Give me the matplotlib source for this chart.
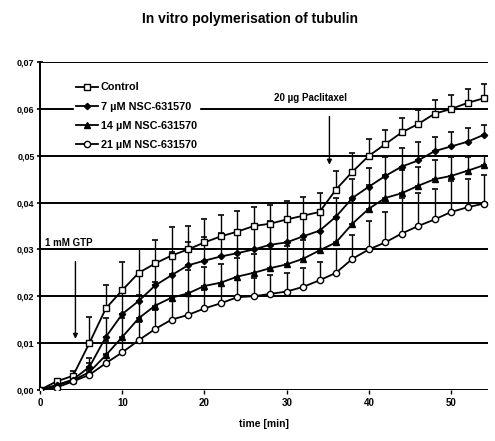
import matplotlib
matplotlib.use("Agg")
import matplotlib.pyplot as plt
import numpy as np
from matplotlib.ticker import FuncFormatter

plt.rcParams['font.family'] = ['Liberation Sans', 'DejaVu Sans']

# time points (min)
time_min = np.arange(0, 56, 2)

# absorbance values
control = [0.0, 0.0018, 0.003, 0.010, 0.0174, 0.0213, 0.025, 0.027, 0.0287, 0.030,
           0.0315, 0.0328, 0.0338, 0.035, 0.0355, 0.0364, 0.0372, 0.038, 0.0428, 0.0466,
           0.050, 0.0525, 0.055, 0.0568, 0.059, 0.060, 0.0613, 0.0623]
nsc_7 = [0.0, 0.001, 0.0022, 0.0049, 0.0113, 0.0162, 0.019, 0.0223, 0.0245, 0.0266,
         0.0276, 0.0285, 0.0292, 0.030, 0.031, 0.0315, 0.0328, 0.034, 0.037, 0.041,
         0.0434, 0.0457, 0.0477, 0.049, 0.051, 0.052, 0.053, 0.0545]
nsc_14 = [0.0, 0.001, 0.002, 0.0038, 0.0074, 0.0113, 0.0153, 0.018, 0.0197, 0.0206,
          0.0222, 0.0229, 0.0242, 0.025, 0.026, 0.0268, 0.028, 0.0298, 0.0315, 0.0355,
          0.0387, 0.041, 0.042, 0.0436, 0.045, 0.0457, 0.0468, 0.048]
nsc_21 = [0.0, 0.0005, 0.0018, 0.0032, 0.0057, 0.008, 0.0106, 0.013, 0.015, 0.016,
          0.0174, 0.0185, 0.0198, 0.020, 0.0205, 0.021, 0.022, 0.0234, 0.025, 0.028,
          0.030, 0.0315, 0.0334, 0.035, 0.0364, 0.038, 0.039, 0.0398]

# upward error bars
err_control = [0.0, 0.0005, 0.001, 0.0055, 0.005, 0.006, 0.005, 0.005, 0.006, 0.005,
               0.005, 0.0045, 0.0045, 0.004, 0.004, 0.004, 0.004, 0.004, 0.004, 0.004,
               0.0035, 0.003, 0.003, 0.003, 0.003, 0.003, 0.003, 0.003]
err_7 = [0.0, 0.0005, 0.001, 0.002, 0.004, 0.005, 0.006, 0.005, 0.005, 0.005,
         0.005, 0.005, 0.005, 0.005, 0.005, 0.005, 0.004, 0.004, 0.004, 0.004,
         0.004, 0.004, 0.004, 0.004, 0.003, 0.003, 0.003, 0.002]
err_14 = [0.0, 0.0005, 0.001, 0.002, 0.003, 0.004, 0.005, 0.005, 0.005, 0.005,
          0.004, 0.004, 0.004, 0.004, 0.004, 0.004, 0.004, 0.004, 0.005, 0.005,
          0.005, 0.005, 0.005, 0.004, 0.004, 0.004, 0.003, 0.002]
err_21 = [0.0, 0.0005, 0.001, 0.001, 0.002, 0.003, 0.004, 0.004, 0.004, 0.004,
          0.004, 0.004, 0.004, 0.004, 0.004, 0.004, 0.004, 0.004, 0.005, 0.005,
          0.006, 0.0065, 0.0076, 0.007, 0.0066, 0.0067, 0.006, 0.0062]

labels = ['Control', '7 µM NSC-631570', '14 µM NSC-631570', '21 µM NSC-631570']
markers = ['s', 'D', '^', 'o']
facecols = ['white', 'black', 'black', 'white']

fig = plt.figure(figsize=(4.95, 4.41), dpi=100)
ax = fig.add_axes([0.081, 0.116, 0.905, 0.743])

# horizontal grid lines
for yv in np.arange(0, 0.0701, 0.01):
    ax.axhline(yv, color='black', lw=1.4, zorder=1)

series = [control, nsc_7, nsc_14, nsc_21]
errs = [err_control, err_7, err_14, err_21]
for vals, e, lab, mk, fc in zip(series, errs, labels, markers, facecols):
    vals = np.array(vals)
    e = np.array(e)
    ax.errorbar(time_min, vals, yerr=[np.zeros_like(e), e], fmt='none',
                ecolor='black', elinewidth=1.0, capsize=2.5, capthick=1.2, zorder=2)
    ax.plot(time_min, vals, color='black', lw=1.3, marker=mk, ms=4.5 if mk != 'D' else 3.2,
            mfc=fc, mec='black', mew=1.0, label=lab, zorder=3)

ax.set_xlim(0, 54.5)
ax.set_ylim(0, 0.07)
ax.set_xticks([0, 10, 20, 30, 40, 50])
ax.set_yticks(np.arange(0, 0.0701, 0.01))
ax.yaxis.set_major_formatter(FuncFormatter(lambda v, p: f'{v:.2f}'.replace('.', ',')))
for s in ['top', 'right', 'bottom']:
    ax.spines[s].set_visible(False)
ax.spines['left'].set_linewidth(1.4)
ax.tick_params(axis='y', length=4, width=1.2, labelsize=6.5, pad=2, direction='inout')
ax.tick_params(axis='x', length=3, width=1.0, labelsize=7, pad=3)
for t in ax.get_xticklabels() + ax.get_yticklabels():
    t.set_fontweight('bold')

ax.set_xlabel('time [min]', fontsize=7.5, fontweight='bold', labelpad=8)
fig.suptitle('In vitro polymerisation of tubulin', fontsize=10, fontweight='bold',
             x=0.505, y=0.972)

leg = ax.legend(loc='upper left', bbox_to_anchor=(0.075, 0.945), frameon=True,
                fontsize=7.8, handlelength=2.0, handletextpad=0.3, labelspacing=0.85,
                borderpad=0.2, borderaxespad=0)
leg.get_frame().set_edgecolor('white')
leg.get_frame().set_facecolor('white')
leg.get_frame().set_alpha(1)
for t in leg.get_texts():
    t.set_fontweight('bold')

# annotations
ax.annotate('', xy=(4.3, 0.0103), xytext=(4.3, 0.028),
            arrowprops=dict(arrowstyle='-|>', color='black', lw=1.0, mutation_scale=7))
ax.text(0.6, 0.0313, '1 mM GTP', fontsize=7, fontweight='bold', va='center')
ax.annotate('', xy=(35.2, 0.0475), xytext=(35.2, 0.059),
            arrowprops=dict(arrowstyle='-|>', color='black', lw=1.0, mutation_scale=7))
ax.text(28.5, 0.0623, '20 µg Paclitaxel', fontsize=7, fontweight='bold', va='center',
        bbox=dict(facecolor='white', edgecolor='none', pad=0.5))

fig.savefig('out.png', dpi=100)
